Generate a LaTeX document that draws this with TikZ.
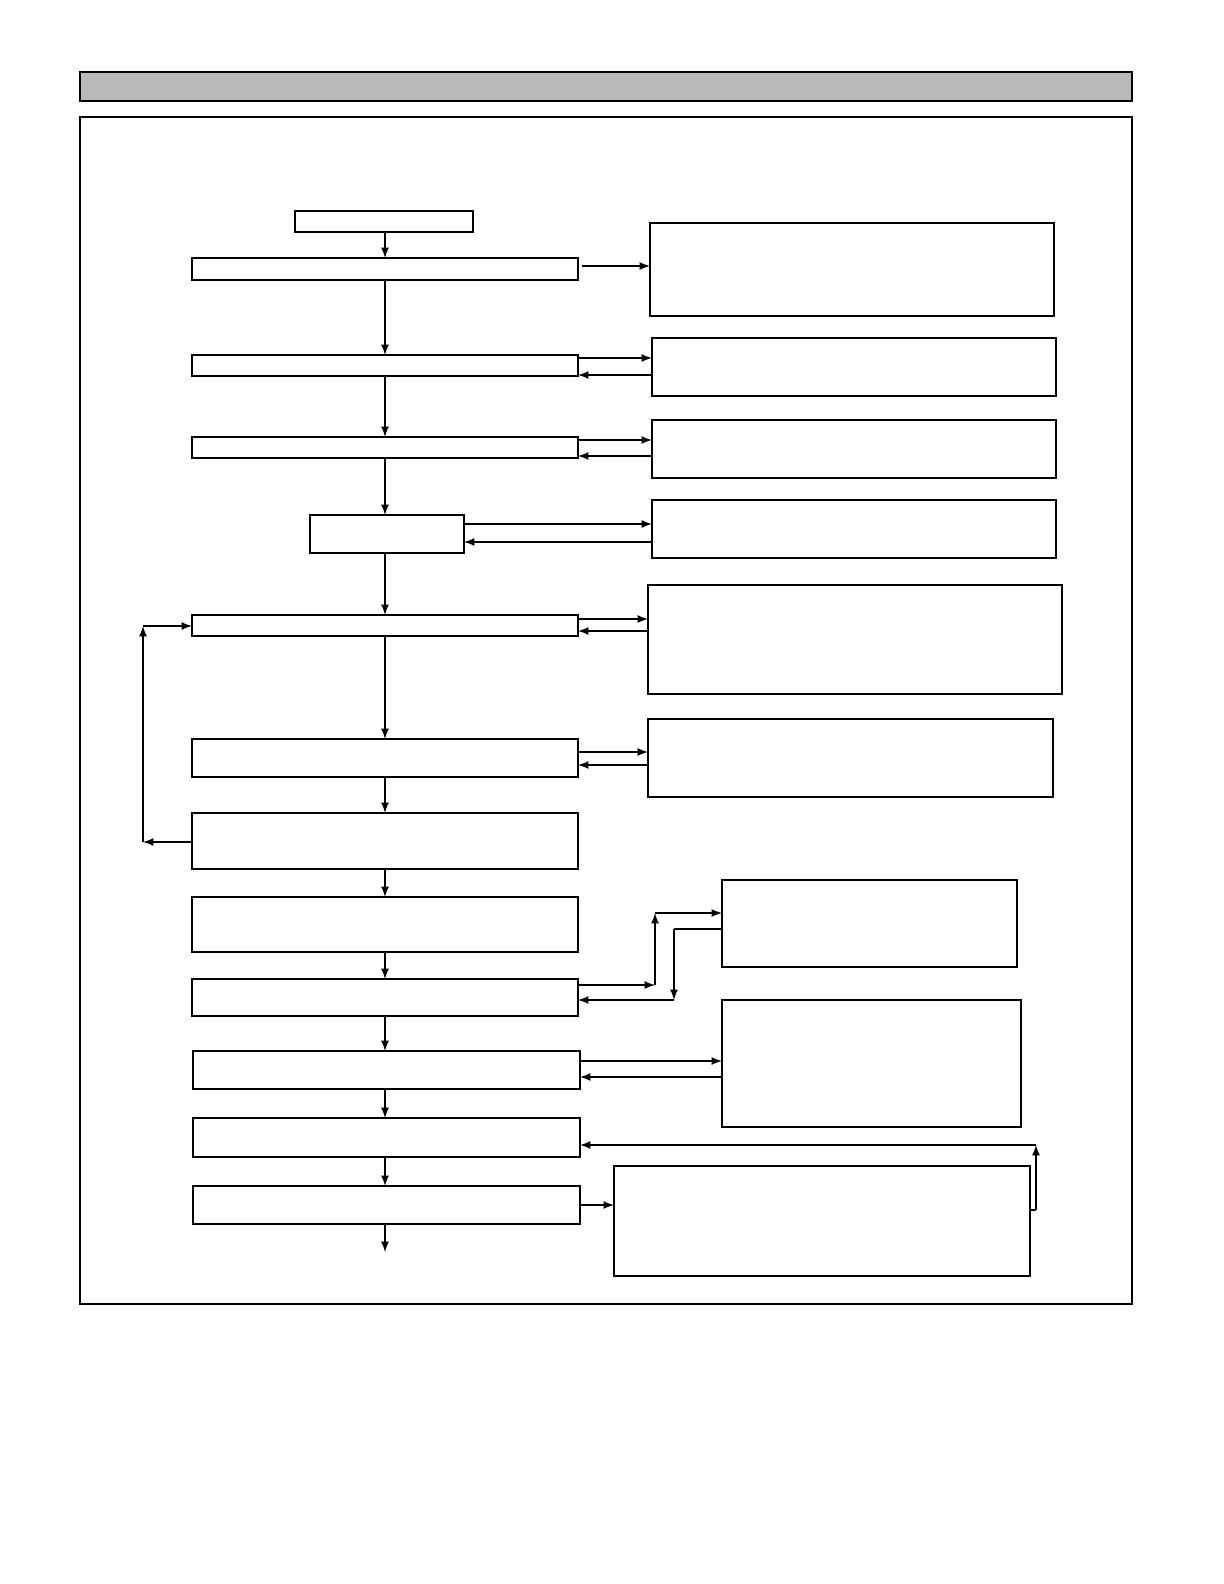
\documentclass[tikz,border=0pt]{standalone}
\usepackage{tikz}
\usetikzlibrary{arrows,positioning}
\tikzset{box/.style={draw=black,thick,fill=white,inner sep=0pt,outer sep=0pt,anchor=north west},
  flow/.style={-latex,thick}}
\newcommand{\bx}[5]{\node[box,minimum width={(#4-#2)*0.5pt},minimum height={(#5-#3)*0.5pt}] (#1) at (#2,#3) {};}
\begin{document}
\begin{tikzpicture}[x=0.5pt,y=-0.5pt]
\useasboundingbox (0,0) rectangle (1224,1584);
\fill[gray!55] (80,72) rectangle (1132,101);
\draw[thick] (80,72) rectangle (1132,101);
\draw[thick] (80,117) rectangle (1132,1304);
% left column
\bx{s}{295}{211}{473}{232}
\bx{b1}{192}{258}{578}{280}
\bx{b2}{192}{355}{578}{376}
\bx{b3}{192}{437}{578}{458}
\bx{b4}{310}{515}{464}{553}
\bx{b5}{192}{615}{578}{636}
\bx{b6}{192}{739}{578}{777}
\bx{b7}{192}{813}{578}{869}
\bx{b8}{192}{897}{578}{952}
\bx{b9}{192}{979}{578}{1016}
\bx{b10}{193}{1051}{580}{1089}
\bx{b11}{193}{1118}{580}{1157}
\bx{b12}{193}{1186}{580}{1224}
% right column
\bx{r1}{650}{223}{1054}{316}
\bx{r2}{652}{338}{1056}{396}
\bx{r3}{652}{420}{1056}{478}
\bx{r4}{652}{500}{1056}{558}
\bx{r5}{648}{585}{1062}{694}
\bx{r6}{648}{719}{1053}{797}
\bx{r7}{722}{880}{1017}{967}
\bx{r8}{722}{1000}{1021}{1127}
\bx{r9}{614}{1166}{1030}{1276}
% main flow
\foreach \a/\b in {s/b1,b1/b2,b2/b3,b3/b4,b4/b5,b5/b6,b6/b7,b7/b8,b8/b9,b9/b10,b10/b11,b11/b12}
  \draw[flow] (385,0 |- \a.south) -- (385,0 |- \b.north);
\coordinate (end) at (385,1252);
\draw[flow] (385,0 |- b12.south) -- (end);
% side branches
\draw[flow] (582,266) -- (r1.west |- 0,266);
\foreach \a/\b/\o/\i in {b2/r2/358/375,b3/r3/440/456,b4/r4/524/542,b5/r5/619/631,b6/r6/752/765,b10/r8/1061/1077}{
  \draw[flow] (\a.east |- 0,\o) -- (\b.west |- 0,\o);
  \draw[flow] (\b.west |- 0,\i) -- (\a.east |- 0,\i);}
% loop back and corners
\coordinate (l1) at (143,842); \coordinate (l2) at (143,626);
\draw[flow] (b7.west |- l1) -- (l1);
\draw[flow] (l1) -- (l2);
\draw[flow] (l2) -- (b5.west |- l2);
\coordinate (u1) at (655,985); \coordinate (u2) at (655,913);
\draw[flow] (b9.east |- u1) -- (u1);
\draw[flow] (u1) -- (u2);
\draw[flow] (u2) -- (r7.west |- u2);
\coordinate (d1) at (674,929); \coordinate (d2) at (674,1000);
\draw[thick] (r7.west |- d1) -- (d1);
\draw[flow] (d1) -- (d2);
\draw[flow] (d2) -- (b9.east |- d2);
\coordinate (e1) at (1036,1210); \coordinate (e2) at (1036,1145);
\draw[thick] (r9.east |- e1) -- (e1);
\draw[flow] (e1) -- (e2);
\draw[flow] (e2) -- (b11.east |- e2);
\draw[flow] (b12.east |- 0,1205) -- (r9.west |- 0,1205);
\end{tikzpicture}
\end{document}
